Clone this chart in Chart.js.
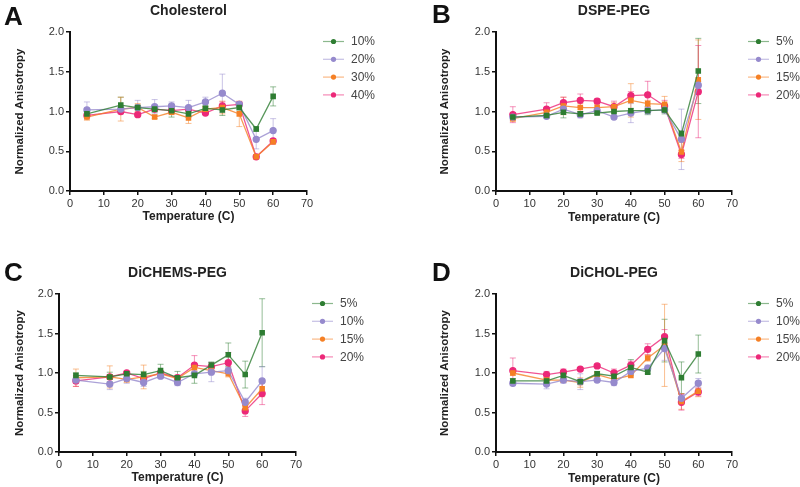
<!DOCTYPE html>
<html>
<head>
<meta charset="utf-8">
<title>Normalized Anisotropy vs Temperature</title>
<script src="https://cdn.jsdelivr.net/npm/chart.js@4.4.1/dist/chart.umd.min.js"></script>
<style>
  html, body { margin: 0; padding: 0; background: #fff; }
  #wrap { position: relative; width: 800px; height: 487px; overflow: hidden; }
  canvas { position: absolute; }
</style>
</head>
<body>
<div id="wrap">
  <canvas id="chartA" width="400" height="243" style="left:0;top:0"></canvas>
  <canvas id="chartB" width="400" height="243" style="left:400px;top:0"></canvas>
  <canvas id="chartC" width="400" height="244" style="left:0;top:243px"></canvas>
  <canvas id="chartD" width="400" height="244" style="left:400px;top:243px"></canvas>
</div>
<script>
// Lämpötilat (C), sama kaikissa paneeleissa
const temps = [5, 15, 20, 25, 30, 35, 40, 45, 50, 55, 60];

// A: Cholesterol
const cholLabels = ['10%', '20%', '30%', '40%'];
const chol10 = [0.97, 1.08, 1.05, 1.03, 1.01, 0.97, 1.04, 1.02, 1.05, 0.78, 1.19];
const chol10Err = [0.03, 0.10, 0.03, 0.04, 0.08, 0.04, 0.03, 0.07, 0.03, 0.03, 0.12];
const chol20 = [1.02, 1.03, 1.05, 1.06, 1.07, 1.05, 1.12, 1.23, 1.09, 0.65, 0.76];
const chol20Err = [0.10, 0.04, 0.09, 0.09, 0.05, 0.09, 0.06, 0.24, 0.03, 0.12, 0.15];
const chol30 = [0.93, 1.03, 1.05, 0.93, 0.99, 0.92, 1.03, 1.05, 0.97, 0.43, 0.62];
const chol30Err = [0.04, 0.15, 0.05, 0.02, 0.03, 0.07, 0.03, 0.08, 0.16, 0.03, 0.03];
const chol40 = [0.95, 1.00, 0.96, 1.03, 1.01, 1.03, 0.98, 1.07, 1.09, 0.43, 0.63];
const chol40Err = [0.03, 0.03, 0.02, 0.03, 0.04, 0.03, 0.02, 0.05, 0.03, 0.02, 0.03];

// B: DSPE-PEG
const pegLabels = ['5%', '10%', '15%', '20%'];
const dspe5 = [0.93, 0.95, 0.99, 0.97, 0.98, 1.00, 1.01, 1.01, 1.02, 0.72, 1.51];
const dspe5Err = [0.03, 0.02, 0.07, 0.03, 0.02, 0.02, 0.03, 0.05, 0.05, 0.04, 0.41];
const dspe10 = [0.93, 0.94, 1.03, 0.96, 1.01, 0.93, 0.98, 1.01, 1.02, 0.65, 1.33];
const dspe10Err = [0.04, 0.02, 0.04, 0.04, 0.02, 0.02, 0.12, 0.04, 0.03, 0.38, 0.05];
const dspe15 = [0.91, 0.99, 1.07, 1.05, 1.05, 1.06, 1.14, 1.10, 1.09, 0.49, 1.40];
const dspe15Err = [0.03, 0.03, 0.11, 0.05, 0.04, 0.05, 0.21, 0.04, 0.10, 0.12, 0.50];
const dspe20 = [0.96, 1.03, 1.11, 1.14, 1.13, 1.06, 1.20, 1.21, 1.07, 0.46, 1.25];
const dspe20Err = [0.10, 0.08, 0.07, 0.08, 0.03, 0.07, 0.05, 0.17, 0.07, 0.05, 0.58];

// C: DiCHEMS-PEG
const chems5 = [0.97, 0.95, 0.99, 0.98, 1.03, 0.94, 0.97, 1.10, 1.23, 0.98, 1.51];
const chems5Err = [0.03, 0.06, 0.02, 0.04, 0.08, 0.08, 0.10, 0.04, 0.15, 0.17, 0.43];
const chems10 = [0.91, 0.86, 0.93, 0.88, 0.96, 0.88, 0.99, 1.01, 1.03, 0.63, 0.90];
const chems10Err = [0.04, 0.07, 0.06, 0.05, 0.03, 0.04, 0.03, 0.12, 0.04, 0.05, 0.18];
const chems15 = [0.94, 0.95, 0.92, 0.95, 0.99, 0.93, 1.07, 1.03, 0.99, 0.56, 0.80];
const chems15Err = [0.11, 0.14, 0.04, 0.15, 0.03, 0.04, 0.04, 0.04, 0.04, 0.04, 0.10];
const chems20 = [0.90, 0.95, 1.00, 0.93, 1.00, 0.94, 1.10, 1.08, 1.13, 0.52, 0.74];
const chems20Err = [0.07, 0.03, 0.02, 0.04, 0.03, 0.03, 0.12, 0.05, 0.13, 0.07, 0.14];

// D: DiCHOL-PEG
const dichol5 = [0.90, 0.90, 0.97, 0.89, 0.99, 0.96, 1.07, 1.01, 1.41, 0.94, 1.24];
const dichol5Err = [0.03, 0.03, 0.03, 0.03, 0.03, 0.03, 0.10, 0.02, 0.27, 0.20, 0.24];
const dichol10 = [0.87, 0.86, 0.91, 0.89, 0.91, 0.88, 1.02, 1.06, 1.31, 0.68, 0.87];
const dichol10Err = [0.03, 0.06, 0.04, 0.10, 0.02, 0.04, 0.03, 0.04, 0.15, 0.05, 0.06];
const dichol15 = [1.00, 0.91, 0.91, 0.88, 0.98, 0.92, 0.97, 1.19, 1.35, 0.64, 0.77];
const dichol15Err = [0.03, 0.03, 0.03, 0.06, 0.03, 0.04, 0.02, 0.04, 0.52, 0.10, 0.07];
const dichol20 = [1.03, 0.98, 1.01, 1.05, 1.09, 1.00, 1.10, 1.30, 1.46, 0.63, 0.76];
const dichol20Err = [0.16, 0.04, 0.04, 0.02, 0.02, 0.05, 0.05, 0.07, 0.09, 0.10, 0.05];

// Sarjojen värit (vihreä, violetti, oranssi, pinkki)
const seriesColors = [[46, 125, 50], [150, 138, 205], [245, 128, 37], [236, 40, 120]];
const seriesMarkers = ['rect', 'circle', 'rect', 'circle'];

const FONT = '"Liberation Sans", Arial, sans-serif';

function rgba(c, a) {
  return 'rgba(' + c[0] + ', ' + c[1] + ', ' + c[2] + ', ' + a + ')';
}

// Virhepalkit piirretään skaalojen kautta ennen viivoja
const errorBars = {
  id: 'errorBars',
  beforeDatasetsDraw(chart) {
    const ctx = chart.ctx;
    const xs = chart.scales.x;
    const ys = chart.scales.y;
    chart.data.datasets.forEach(function(ds) {
      if (!ds.errors) return;
      ctx.save();
      ctx.strokeStyle = ds.errorColor;
      ctx.lineWidth = 1;
      ds.data.forEach(function(p, j) {
        const e = ds.errors[j];
        const x = xs.getPixelForValue(p.x);
        const yTop = ys.getPixelForValue(p.y + e);
        const yBot = ys.getPixelForValue(p.y - e);
        ctx.beginPath();
        ctx.moveTo(x, yTop); ctx.lineTo(x, yBot);
        ctx.moveTo(x - 3, yTop); ctx.lineTo(x + 3, yTop);
        ctx.moveTo(x - 3, yBot); ctx.lineTo(x + 3, yBot);
        ctx.stroke();
      });
      ctx.restore();
    });
  }
};

// Otsikko, paneelin kirjain ja selite oikealle
function decorPlugin(panel) {
  return {
    id: 'decor',
    afterDraw(chart) {
      const ctx = chart.ctx;
      const area = chart.chartArea;
      ctx.save();
      ctx.fillStyle = '#111';
      ctx.font = 'bold 26px ' + FONT;
      ctx.textAlign = 'left';
      ctx.textBaseline = 'alphabetic';
      ctx.fillText(panel.letter, panel.letterX, panel.letterY);

      ctx.font = 'bold 14px ' + FONT;
      ctx.textAlign = 'center';
      ctx.textBaseline = 'middle';
      ctx.fillStyle = '#222';
      ctx.fillText(panel.title, (area.left + area.right) / 2, area.top - 21);

      const lx = area.right + 16;
      let ly = area.top + 9.5;
      ctx.font = '12px ' + FONT;
      ctx.textAlign = 'left';
      chart.data.datasets.forEach(function(ds, i) {
        ctx.strokeStyle = rgba(seriesColors[i], 0.55);
        ctx.lineWidth = 1.2;
        ctx.beginPath();
        ctx.moveTo(lx, ly);
        ctx.lineTo(lx + 21, ly);
        ctx.stroke();
        ctx.fillStyle = rgba(seriesColors[i], 1);
        ctx.beginPath();
        ctx.arc(lx + 10.5, ly, 2.6, 0, Math.PI * 2);
        ctx.fill();
        ctx.fillStyle = '#444';
        ctx.fillText(ds.label, lx + 28, ly + 0.5);
        ly += 17.8;
      });
      ctx.restore();
    }
  };
}

function makeDatasets(labels, values, errors) {
  return labels.map(function(label, i) {
    return {
      label: label,
      data: temps.map(function(t, j) { return { x: t, y: values[i][j] }; }),
      errors: errors[i],
      errorColor: rgba(seriesColors[i], 0.5),
      borderColor: rgba(seriesColors[i], 0.8),
      backgroundColor: rgba(seriesColors[i], 1),
      pointBackgroundColor: rgba(seriesColors[i], 1),
      pointBorderColor: rgba(seriesColors[i], 1),
      pointStyle: seriesMarkers[i],
      pointRadius: 3,
      borderWidth: 1.3,
      tension: 0,
      fill: false
    };
  });
}

function makePanel(canvasId, panel) {
  const config = {
    type: 'line',
    data: {
      datasets: makeDatasets(panel.labels, panel.values, panel.errors)
    },
    options: {
      responsive: false,
      animation: false,
      layout: { padding: panel.padding },
      plugins: {
        legend: { display: false },
        title: { display: false },
        tooltip: { enabled: false }
      },
      scales: {
        x: {
          type: 'linear',
          min: 0,
          max: 70,
          afterFit: function(scale) { scale.height = panel.xHeight; },
          ticks: {
            stepSize: 10,
            color: '#333',
            padding: 2,
            font: { family: FONT, size: 11 }
          },
          grid: { drawOnChartArea: false, drawTicks: true, tickLength: 4, color: '#111', lineWidth: 1.5 },
          border: { color: '#111', width: 2 },
          title: {
            display: true,
            text: 'Temperature (C)',
            color: '#222',
            padding: { top: 0, bottom: 0 },
            font: { family: FONT, size: 12, weight: 'bold' }
          }
        },
        y: {
          min: 0,
          max: 2,
          afterFit: function(scale) { scale.width = panel.yWidth; },
          ticks: {
            stepSize: 0.5,
            color: '#333',
            padding: 2,
            font: { family: FONT, size: 11 },
            callback: function(v) { return v.toFixed(1); }
          },
          grid: { drawOnChartArea: false, drawTicks: true, tickLength: 4, color: '#111', lineWidth: 1.5 },
          border: { color: '#111', width: 2 },
          title: {
            display: true,
            text: 'Normalized Anisotropy',
            color: '#222',
            padding: { top: 4, bottom: 0 },
            font: { family: FONT, size: 11.5, weight: 'bold' }
          }
        }
      }
    },
    plugins: [errorBars, decorPlugin(panel)]
  };
  return new Chart(document.getElementById(canvasId), config);
}

makePanel('chartA', {
  letter: 'A', letterX: 4, letterY: 25, title: 'Cholesterol',
  labels: cholLabels,
  values: [chol10, chol20, chol30, chol40],
  errors: [chol10Err, chol20Err, chol30Err, chol40Err],
  padding: { left: 9, top: 32, right: 93, bottom: 19 }, yWidth: 61, xHeight: 33
});

makePanel('chartB', {
  letter: 'B', letterX: 32, letterY: 23, title: 'DSPE-PEG',
  labels: pegLabels,
  values: [dspe5, dspe10, dspe15, dspe20],
  errors: [dspe5Err, dspe10Err, dspe15Err, dspe20Err],
  padding: { left: 34, top: 32, right: 68, bottom: 18 }, yWidth: 62, xHeight: 34
});

makePanel('chartC', {
  letter: 'C', letterX: 4, letterY: 38, title: 'DiCHEMS-PEG',
  labels: pegLabels,
  values: [chems5, chems10, chems15, chems20],
  errors: [chems5Err, chems10Err, chems15Err, chems20Err],
  padding: { left: 9, top: 51, right: 104, bottom: 2 }, yWidth: 50, xHeight: 33
});

makePanel('chartD', {
  letter: 'D', letterX: 32, letterY: 38, title: 'DiCHOL-PEG',
  labels: pegLabels,
  values: [dichol5, dichol10, dichol15, dichol20],
  errors: [dichol5Err, dichol10Err, dichol15Err, dichol20Err],
  padding: { left: 34, top: 51, right: 68, bottom: 1 }, yWidth: 62, xHeight: 34
});
</script>
</body>
</html>
